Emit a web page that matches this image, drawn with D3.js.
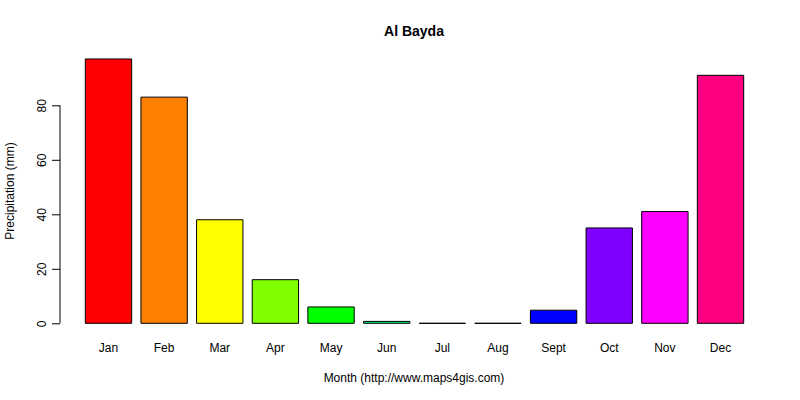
<!DOCTYPE html>
<html>
<head>
<meta charset="utf-8">
<script src="https://cdn.jsdelivr.net/npm/d3@7"></script>
<style>
  body { margin:0; background:#fff; }
  text { font-family: "Liberation Sans", Arial, sans-serif; fill:#000; }
</style>
</head>
<body>
<svg width="800" height="400"></svg>
<script>
// data
const months = ['Jan','Feb','Mar','Apr','May','Jun','Jul','Aug','Sept','Oct','Nov','Dec'];
const precip = [97, 83, 38, 16, 6, 0.7, 0, 0, 4.8, 35, 41, 91];
const barColors = ['#FF0000','#FF8000','#FFFF00','#80FF00','#00FF00','#00FF80',
                   '#00FFFF','#0080FF','#0000FF','#8000FF','#FF00FF','#FF0080'];
const yTicks = [0, 20, 40, 60, 80];

const svg = d3.select('svg');

//Scales
const xScale = d3.scaleBand()
    .domain(months)
    .range([85.3, 743.7])
    .paddingInner(1/6)
    .paddingOuter(0);
const yScale = d3.scaleLinear()
    .domain([0, 100])
    .range([323.3, 50.8]);

//Bars as paths so zero-height bars still show their outline
svg.append('g').selectAll('path')
    .data(months)
    .join('path')
    .attr('d', (d, i) => {
        const x0 = xScale(d), x1 = x0 + xScale.bandwidth();
        const y0 = yScale(0), y1 = yScale(precip[i]);
        return 'M' + x0 + ',' + y0 + 'V' + y1 + 'H' + x1 + 'V' + y0 + 'Z';
    })
    .attr('fill', (d, i) => barColors[i])
    .attr('stroke', '#000')
    .attr('stroke-width', 1);

//Y axis (R style: line only over the tick range)
const yAxis = d3.axisLeft(yScale)
    .tickValues(yTicks)
    .tickSize(8)
    .tickPadding(6);
const yAxisGroup = svg.append('g')
    .attr('transform', 'translate(60,0)')
    .call(yAxis);
yAxisGroup.select('.domain').remove();
yAxisGroup.append('line')
    .attr('x1', 0).attr('x2', 0)
    .attr('y1', yScale(0)).attr('y2', yScale(80))
    .attr('stroke', '#000');
yAxisGroup.selectAll('.tick line').attr('stroke', '#000');
yAxisGroup.selectAll('.tick text')
    .attr('x', 0).attr('y', 0)
    .attr('transform', 'translate(-18,0) rotate(-90)')
    .attr('text-anchor', 'middle')
    .attr('dy', '0.35em')
    .style('font-size', '12px')
    .style('font-family', '"Liberation Sans", Arial, sans-serif')
    .attr('fill', '#000');

//Month labels
const xAxis = d3.axisBottom(xScale).tickSize(0).tickPadding(0);
const xAxisGroup = svg.append('g')
    .attr('transform', 'translate(0,343)')
    .call(xAxis);
xAxisGroup.select('.domain').remove();
xAxisGroup.selectAll('.tick text')
    .attr('y', 0)
    .attr('dy', '0.71em')
    .style('font-size', '12px')
    .style('font-family', '"Liberation Sans", Arial, sans-serif')
    .attr('fill', '#000');

//Titles
svg.append('text')
    .attr('x', 414).attr('y', 36)
    .attr('text-anchor', 'middle')
    .style('font-size', '14px')
    .style('font-weight', 'bold')
    .text('Al Bayda');
svg.append('text')
    .attr('x', 414).attr('y', 382)
    .attr('text-anchor', 'middle')
    .style('font-size', '12px')
    .text('Month (http://www.maps4gis.com)');
svg.append('text')
    .attr('transform', 'translate(14,191) rotate(-90)')
    .attr('text-anchor', 'middle')
    .style('font-size', '12px')
    .text('Precipitation (mm)');
</script>
</body>
</html>
